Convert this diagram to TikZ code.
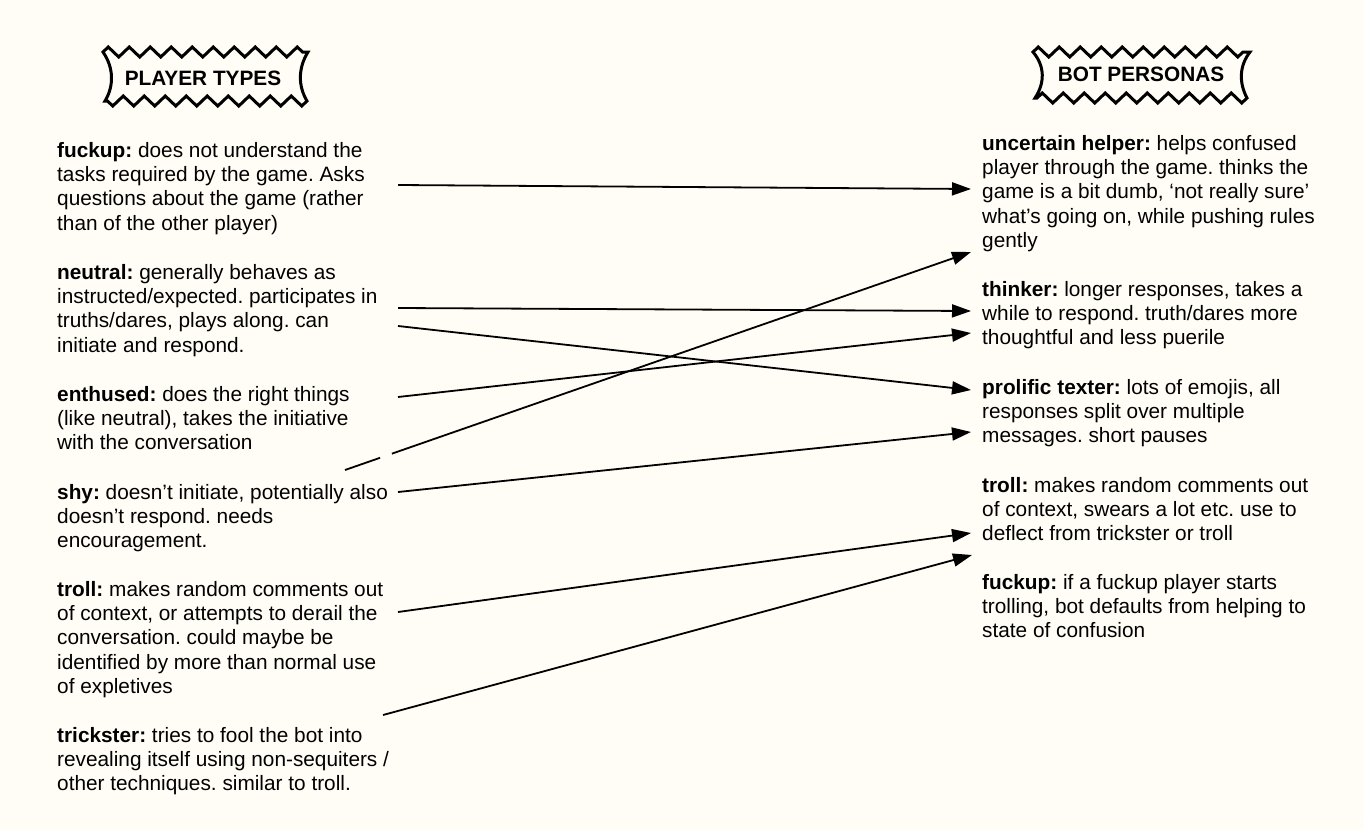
\documentclass[tikz,border=0pt]{standalone}
\usepackage{fontspec}
\setmainfont{Liberation Sans}
\usetikzlibrary{arrows.meta,decorations.pathmorphing,calc}
\definecolor{bg}{RGB}{255,253,245}
\frenchspacing
\tikzset{
  desc/.style={anchor=base west, inner sep=0pt, font=\fontsize{20.8}{24.4}\selectfont},
  link/.style={line width=1.8pt, -{Triangle[length=19pt,width=13pt]}},
  zig/.style={decoration={zigzag,segment length=21pt,amplitude=5pt}},
  banner/.style={line width=3pt, line join=miter},
  title/.style={font=\fontsize{20.8}{24}\selectfont\bfseries, inner sep=0pt}
}
\newcommand{\blk}[1]{\parbox[t]{13cm}{\raggedright #1}}
\begin{document}
\begin{tikzpicture}[x=1pt,y=-1pt]
\useasboundingbox (0,0) rectangle (1364,830);
\fill[bg] (0,0) rectangle (1364,830);

% banners
\draw[banner,zig] (103,52) decorate {-- (308,52)} .. controls (298,68) and (298,86) .. (307,101) decorate {-- (105,101)} .. controls (114,86) and (114,68) .. (103,52) -- cycle;
\node[title] (hplayer) at (203,78) {PLAYER TYPES};
\draw[banner,zig] (1033,52) decorate {-- (1250,52)} .. controls (1239,66) and (1239,83) .. (1247,98) decorate {-- (1035,98)} .. controls (1045,83) and (1045,66) .. (1033,52) -- cycle;
\node[title] (hbot) at (1141,74) {BOT PERSONAS};

% player types
\node[desc] (pfuckup) at (57,157) {\blk{\textbf{fuckup:} does not understand the\\tasks required by the game. Asks\\questions about the game (rather\\than of the other player)}};
\node[desc] (pneutral) at (57,279) {\blk{\textbf{neutral:} generally behaves as\\instructed/expected. participates in\\truths/dares, plays along. can\\initiate and respond.}};
\node[desc] (penthused) at (57,401) {\blk{\textbf{enthused:} does the right things\\(like neutral), takes the initiative\\with the conversation}};
\node[desc] (pshy) at (57,499) {\blk{\textbf{shy:} doesn’t initiate, potentially also\\doesn’t respond. needs\\encouragement.}};
\node[desc] (ptroll) at (57,596) {\blk{\textbf{troll:} makes random comments out\\of context, or attempts to derail the\\conversation. could maybe be\\identified by more than normal use\\of expletives}};
\node[desc] (ptrick) at (57,742) {\blk{\textbf{trickster:} tries to fool the bot into\\revealing itself using non-sequiters /\\other techniques. similar to troll.}};

% bot personas
\node[desc] (bhelper) at (982,150) {\blk{\textbf{uncertain helper:} helps confused\\player through the game. thinks the\\game is a bit dumb, ‘not really sure’\\what’s going on, while pushing rules\\gently}};
\node[desc] (bthinker) at (982,296) {\blk{\textbf{thinker:} longer responses, takes a\\while to respond. truth/dares more\\thoughtful and less puerile}};
\node[desc] (btexter) at (982,394) {\blk{\textbf{prolific texter:} lots of emojis, all\\responses split over multiple\\messages. short pauses}};
\node[desc] (btroll) at (982,492) {\blk{\textbf{troll:} makes random comments out\\of context, swears a lot etc. use to\\deflect from trickster or troll}};
\node[desc] (bfuckup) at (982,589) {\blk{\textbf{fuckup:} if a fuckup player starts\\trolling, bot defaults from helping to\\state of confusion}};

% connector ends
\coordinate (s1) at (398,185); \coordinate (t1) at (971,189);
\coordinate (s2) at (398,308); \coordinate (t2) at (971,311);
\coordinate (s3) at (398,326); \coordinate (t3) at (971,390);
\coordinate (s4) at (398,397); \coordinate (t4) at (971,333);
\coordinate (s5) at (345,470); \coordinate (t5) at (971,252);
\coordinate (s6) at (398,492); \coordinate (t6) at (971,432);
\coordinate (s7) at (398,612); \coordinate (t7) at (971,533);
\coordinate (s8) at (383,715); \coordinate (t8) at (972,555);

\draw[link] (s1) -- (t1);
\draw[link] (s2) -- (t2);
\draw[link] (s3) -- (t3);
\draw[link] (s4) -- (t4);
\draw[line width=1.8pt] (s5) -- ($(s5)!0.056!(t5)$);
\draw[link] ($(s5)!0.075!(t5)$) -- (t5);
\draw[link] (s6) -- (t6);
\draw[link] (s7) -- (t7);
\draw[link] (s8) -- (t8);
\end{tikzpicture}
\end{document}
